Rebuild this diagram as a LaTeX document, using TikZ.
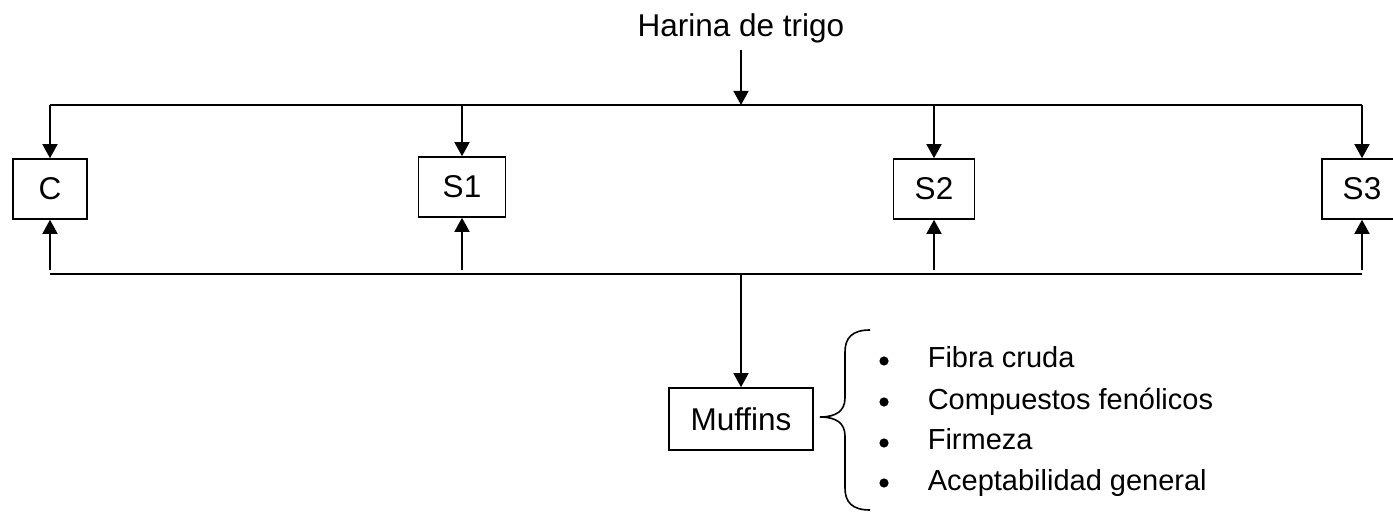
\documentclass[tikz,border=0pt]{standalone}
\usepackage{fontspec}
\setmainfont{Liberation Sans}
\usetikzlibrary{arrows.meta}
\newcommand{\boxfont}{\fontsize{15.75}{19}\selectfont}
\newcommand{\listfont}{\fontsize{14.5}{17}\selectfont}

\begin{document}
\begin{tikzpicture}[x=0.5pt, y=-0.5pt, line width=0.8pt,
    sample/.style={draw, minimum height=30pt, inner sep=0pt, font=\boxfont},
    flow/.style={-{Triangle[length=7pt, width=7.5pt]}},
    item/.style={anchor=base west, inner sep=0pt, font=\listfont},
    dot/.style={fill, circle, inner sep=0pt, minimum size=4.6pt}]
  \useasboundingbox (0,0) rectangle (1393,513);

  % flour on top
  \node[anchor=base, inner sep=3pt, font=\boxfont] (flour) at (741,37) {Harina de trigo};

  % formulations
  \node[sample, minimum width=37pt] (C) at (50,189) {C};
  \node[sample, minimum width=43.5pt] (S1) at (462,187) {S1};
  \node[sample, minimum width=40.5pt] (S2) at (934,189) {S2};
  \node[sample, minimum width=40pt] (S3) at (1362,189) {S3};

  % product
  \node[sample, minimum width=72pt, minimum height=31pt] (muffins) at (741,419) {Muffins};

  \coordinate (topbus) at (0,105);
  \coordinate (lowbus) at (0,274);

  % distribution
  \draw[flow] (flour.south) -- (flour |- topbus);
  \draw (C |- topbus) -- (S3 |- topbus);
  \foreach \s in {C,S1,S2,S3}
    \draw[flow] (\s |- topbus) -- (\s.north);

  % collection
  \draw (C |- lowbus) -- (S3 |- lowbus);
  \foreach \s in {C,S1,S2,S3}
    \draw[flow, shorten <=2pt] (\s |- lowbus) -- (\s.south);
  \draw[flow] (muffins |- lowbus) -- (muffins.north);

  % brace
  \draw (870,330) .. controls (852,330) and (845,338) .. (845,352) -- (845,398)
    .. controls (845,411) and (836,417) .. (820,417)
    .. controls (836,417) and (845,423) .. (845,436) -- (845,488)
    .. controls (845,502) and (852,510) .. (870,510);

  % analyses
  \foreach \txt/\yb [count=\i] in {Fibra cruda/368, Compuestos fenólicos/409, Firmeza/450, Aceptabilidad general/490} {
    \node[dot] (dot\i) at (884,\yb-7) {};
    \node[item] (item\i) at (927,\yb) {\txt};
  }
\end{tikzpicture}
\end{document}
